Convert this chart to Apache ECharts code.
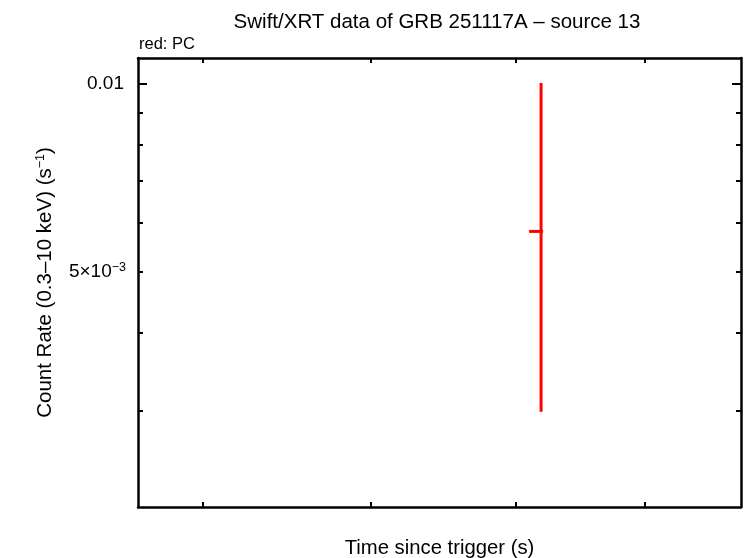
<!DOCTYPE html>
<html>
<head>
<meta charset="utf-8">
<script src="https://cdn.jsdelivr.net/npm/echarts@6/dist/echarts.min.js"></script>
<style>html,body{margin:0;padding:0;background:#fff;overflow:hidden}#c{width:746px;height:558px}</style>
</head>
<body>
<div id="c"></div>
<script>
// Data (time in s since trigger, count rate in s^-1)
const timeValues = [81858];
const timeErrNeg = [894];
const timeErrPos = [150];
const rateValues = [0.005807];
const rateLow = [0.002987];
const rateHigh = [0.01004];

const xTicks = [60000, 70000, 80000, 90000];
const yMajorTicks = [0.01];
const yMinorTicks = [0.003, 0.004, 0.005, 0.006, 0.007, 0.008, 0.009];
const yLabelTicks = [0.01, 0.005];

const xMin = 56556, xMax = 98334;
const yMin = 0.002102, yMax = 0.011006;

const FONT = 'Liberation Sans';
const chart = echarts.init(document.getElementById('c'), null, {renderer: 'canvas'});

const errData = timeValues.map((t, i) => [t, rateValues[i], t - timeErrNeg[i], t + timeErrPos[i], rateLow[i], rateHigh[i]]);
const supStyle = {fontSize: 12.5, verticalAlign: 'top', padding: [0, 0, 9, 0], fontFamily: FONT, color: '#000'};
const AX_W = 2.5;

function yAxisBase(pos, ticks, len, showLine, labels) {
  return {
    type: 'log', logBase: 10, min: yMin, max: yMax, position: pos,
    axisLine: {show: showLine, lineStyle: {color: '#000', width: AX_W}},
    axisTick: {show: true, inside: true, length: len, customValues: ticks, lineStyle: {color: '#000', width: 2}},
    axisLabel: labels ? {
      show: true, customValues: yLabelTicks, margin: 12, color: '#000', fontFamily: FONT, fontSize: 19,
      formatter: v => (Math.abs(v - 0.01) < 1e-9 ? '0.01{pad|}' : '5×10{sup|−3}'),
      rich: {sup: supStyle, pad: {width: 2}}
    } : {show: false},
    splitLine: {show: false}
  };
}

chart.setOption({
  animation: false,
  backgroundColor: '#fff',
  grid: {left: 138, right: 5, top: 58, bottom: 51, containLabel: false, outerBoundsMode: 'none'},
  title: [
    {text: 'Swift/XRT data of GRB 251117A – source 13', left: 432, top: 7, textAlign: 'center',
     textStyle: {fontFamily: FONT, fontSize: 20.5, fontWeight: 'normal', color: '#000'}},
    {text: 'red: PC', left: 134, top: 31,
     textStyle: {fontFamily: FONT, fontSize: 16.5, fontWeight: 'normal', color: '#000'}}
  ],
  xAxis: [
    {type: 'log', min: xMin, max: xMax, position: 'bottom',
     name: 'Time since trigger (s)', nameLocation: 'middle', nameGap: 31,
     nameTextStyle: {fontFamily: FONT, fontSize: 20.3, color: '#000'},
     axisLine: {show: true, lineStyle: {color: '#000', width: AX_W}},
     axisTick: {show: true, inside: true, length: 5, customValues: xTicks, lineStyle: {color: '#000', width: 2}},
     axisLabel: {show: false}, splitLine: {show: false}},
    {type: 'log', min: xMin, max: xMax, position: 'top',
     axisLine: {show: true, lineStyle: {color: '#000', width: AX_W}},
     axisTick: {show: true, inside: true, length: 5, customValues: xTicks, lineStyle: {color: '#000', width: 2}},
     axisLabel: {show: false}, splitLine: {show: false}}
  ],
  yAxis: [
    Object.assign(yAxisBase('left', yMajorTicks, 9, true, true), {
      name: 'Count Rate (0.3–10 keV) (s{sup|−1})', nameLocation: 'middle', nameGap: 82, nameRotate: 90,
      nameTextStyle: {fontFamily: FONT, fontSize: 20.5, color: '#000', rich: {sup: supStyle}}
    }),
    yAxisBase('left', yMinorTicks, 5, false, false),
    yAxisBase('right', yMajorTicks, 9, true, false),
    yAxisBase('right', yMinorTicks, 5, false, false)
  ],
  series: [{
    type: 'custom',
    xAxisIndex: 0, yAxisIndex: 0,
    data: errData,
    clip: true,
    renderItem: function (params, api) {
      const c = api.coord([api.value(0), api.value(1)]);
      const l = api.coord([api.value(2), api.value(1)]);
      const r = api.coord([api.value(3), api.value(1)]);
      const lo = api.coord([api.value(0), api.value(4)]);
      const hi = api.coord([api.value(0), api.value(5)]);
      const st = {stroke: '#ff0000', lineWidth: 3};
      return {type: 'group', children: [
        {type: 'line', shape: {x1: c[0], y1: lo[1], x2: c[0], y2: hi[1]}, style: st},
        {type: 'line', shape: {x1: l[0], y1: c[1], x2: r[0], y2: c[1]}, style: st}
      ]};
    }
  }]
});
</script>
</body>
</html>
